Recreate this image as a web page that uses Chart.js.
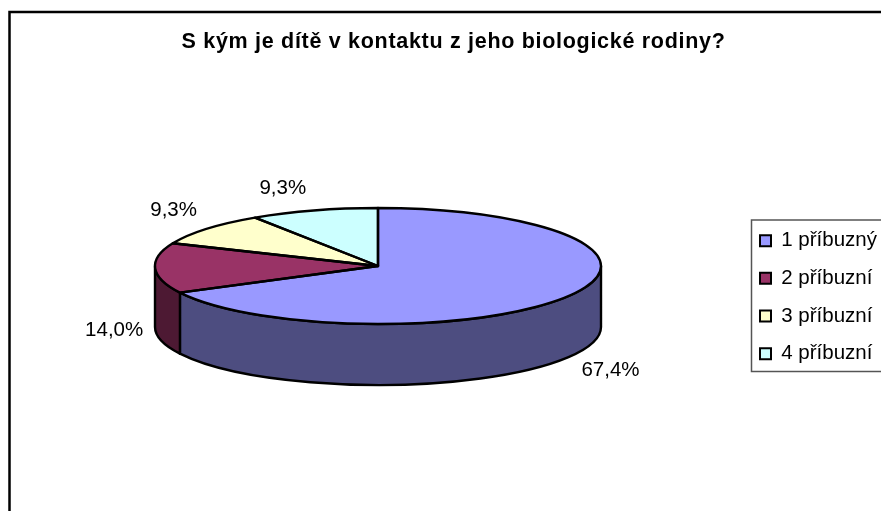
<!DOCTYPE html>
<html>
<head>
<meta charset="utf-8">
<style>html,body{margin:0;padding:0;background:#fff;overflow:hidden}canvas{display:block}</style>
<script src="https://cdn.jsdelivr.net/npm/chart.js@4"></script>
</head>
<body>
<canvas id="c" width="881" height="511"></canvas>
<script>
const titleText = 'S kým je dítě v kontaktu z jeho biologické rodiny?';
const categories = ['1 příbuzný', '2 příbuzní', '3 příbuzní', '4 příbuzní'];
const shares = [67.4, 14.0, 9.3, 9.3];
const topColors = ['#9999FF', '#993366', '#FFFFCC', '#CCFFFF'];
const wallColors = ['#4D4D80', '#4D1933', '#808066', '#668080'];
const labelNudges = [[42, 13], [-41, 1], [-33, -19], [-31, -22]];

const FONT = '"Liberation Sans", Arial, sans-serif';
const CX = 378, CY = 266, RX = 223, RY = 58, DEPTH = 61;
const K = RY / RX;
const LINE = 2.4;

const pie3d = {
  id: 'pie3d',
  beforeDraw(chart) {
    const ctx = chart.ctx;
    ctx.save();
    ctx.fillStyle = '#fff';
    ctx.fillRect(0, 0, chart.width, chart.height);
    ctx.strokeStyle = '#000';
    ctx.lineWidth = 2.5;
    ctx.strokeRect(9.5, 12, chart.width, chart.height);
    ctx.fillStyle = '#fff';
    ctx.strokeStyle = '#555';
    ctx.lineWidth = 1.5;
    ctx.fillRect(751.5, 220, 200, 151.5);
    ctx.strokeRect(751.5, 220, 200, 151.5);
    ctx.restore();
  },
  afterLayout(chart) {
    const lg = chart.legend;
    const w = lg.right - lg.left, h = lg.bottom - lg.top;
    lg.left = 742.8; lg.right = 742.8 + w;
    lg.top = 213.2; lg.bottom = 213.2 + Math.max(h, 160);
    const t = chart.titleBlock;
    t.left = 26; t.right = chart.width;
    const th = t.bottom - t.top;
    t.top = 29; t.bottom = 29 + th;
    if (!t._spaced) {
      t._spaced = true;
      const orig = t.draw;
      t.draw = function () {
        chart.ctx.letterSpacing = '0.7px';
        orig.call(t);
        chart.ctx.letterSpacing = '0px';
      };
    }
  },
  beforeDatasetsDraw(chart) {
    const ctx = chart.ctx;
    const arcs = chart.getDatasetMeta(0).data;
    ctx.save();
    ctx.lineWidth = LINE;
    ctx.strokeStyle = '#000';
    ctx.lineJoin = 'round';
    arcs.forEach((a, i) => {
      const s = Math.max(a.startAngle, 0), e = Math.min(a.endAngle, Math.PI);
      if (e <= s) return;
      ctx.beginPath();
      ctx.ellipse(CX, CY, RX, RY, 0, s, e, false);
      ctx.lineTo(CX + RX * Math.cos(e), CY + RY * Math.sin(e) + DEPTH);
      ctx.ellipse(CX, CY + DEPTH, RX, RY, 0, e, s, true);
      ctx.closePath();
      ctx.fillStyle = wallColors[i];
      ctx.fill();
      ctx.stroke();
    });
    ctx.restore();
  },
  beforeDatasetDraw(chart) {
    const ctx = chart.ctx;
    const a = chart.getDatasetMeta(0).data[0];
    ctx.save();
    ctx.translate(CX, CY);
    ctx.scale(1, K);
    ctx.translate(-a.x, -a.y);
  },
  afterDatasetDraw(chart) {
    chart.ctx.restore();
  },
  afterDatasetsDraw(chart) {
    const ctx = chart.ctx;
    const arcs = chart.getDatasetMeta(0).data;
    ctx.save();
    ctx.lineWidth = LINE;
    ctx.strokeStyle = '#000';
    ctx.lineJoin = 'round';
    arcs.forEach(a => {
      ctx.beginPath();
      ctx.moveTo(CX, CY);
      ctx.ellipse(CX, CY, RX, RY, 0, a.startAngle, a.endAngle, false);
      ctx.closePath();
      ctx.stroke();
    });
    ctx.fillStyle = '#000';
    ctx.font = '20.5px ' + FONT;
    ctx.textAlign = 'center';
    ctx.textBaseline = 'middle';
    arcs.forEach((a, i) => {
      const m = (a.startAngle + a.endAngle) / 2;
      const ex = CX + RX * Math.cos(m);
      const ey = CY + RY * Math.sin(m) + (Math.sin(m) > 0 || i === 1 ? DEPTH : 0);
      const txt = shares[i].toFixed(1).replace('.', ',') + '%';
      ctx.fillText(txt, ex + labelNudges[i][0], ey + labelNudges[i][1]);
    });
    ctx.restore();
  }
};

new Chart(document.getElementById('c'), {
  type: 'pie',
  data: {
    labels: categories,
    datasets: [{
      data: shares,
      backgroundColor: topColors,
      borderWidth: 0,
      radius: RX,
      clip: false
    }]
  },
  options: {
    responsive: false,
    animation: false,
    events: [],
    layout: { padding: 0 },
    plugins: {
      tooltip: { enabled: false },
      title: {
        display: true,
        text: titleText,
        color: '#000',
        font: { family: FONT, size: 21.5, weight: 'bold' },
        padding: { top: 0, bottom: 0 }
      },
      legend: {
        display: true,
        position: 'right',
        align: 'start',
        labels: {
          color: '#000',
          font: { family: FONT, size: 20.5 },
          boxWidth: 11,
          boxHeight: 11,
          padding: 17.2,
          generateLabels(chart) {
            return Chart.overrides.pie.plugins.legend.labels.generateLabels(chart)
              .map(it => ({ ...it, strokeStyle: '#000', lineWidth: 2 }));
          }
        }
      }
    }
  },
  plugins: [pie3d]
});
</script>
</body>
</html>
